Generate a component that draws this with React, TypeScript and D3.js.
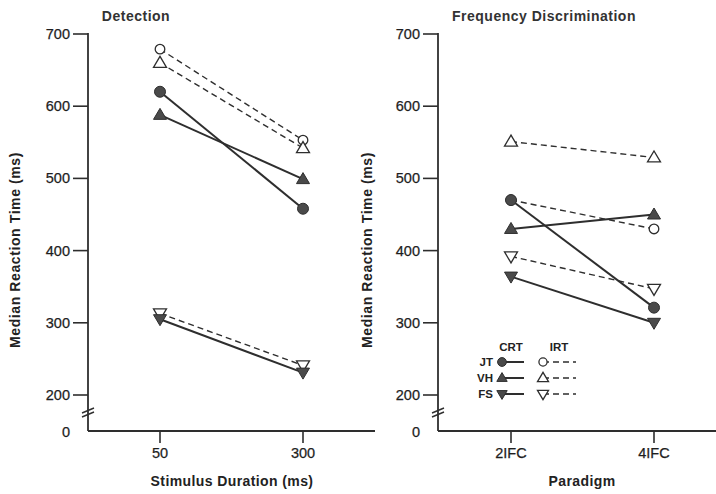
import React from "react";
import * as d3 from "d3";

const yTicks = [200, 300, 400, 500, 600, 700];
const detCats = ["50", "300"];
const freqCats = ["2IFC", "4IFC"];

const subjects = ["JT", "VH", "FS"];
const shapes = ["circle", "up", "down"];

// Detection values [at 50, at 300]
const detCRT_JT = [620, 458];
const detCRT_VH = [588, 499];
const detCRT_FS = [305, 231];
const detIRT_JT = [679, 553];
const detIRT_VH = [660, 542];
const detIRT_FS = [313, 241];

// Frequency discrimination [2IFC, 4IFC]
const frqCRT_JT = [470, 321];
const frqCRT_VH = [430, 450];
const frqCRT_FS = [364, 300];
const frqIRT_JT = [470, 430];
const frqIRT_VH = [551, 529];
const frqIRT_FS = [392, 347];

const INK = "#2e2e2e";
const FILL = "#4a4a4a";
const FONT = "'Liberation Sans', Arial, Helvetica, sans-serif";

function Marker({ shape, x, y, filled, k = 1 }: { shape: string; x: number; y: number; filled: boolean; k?: number }) {
  const fill = filled ? FILL : "#fff";
  const sw = filled ? 1 : 1.3;
  if (shape === "circle") {
    return <circle cx={x} cy={y} r={(filled ? 5.5 : 4.8) * k} fill={fill} stroke={INK} strokeWidth={sw} />;
  }
  const s = 6.5 * k;
  const h = 11 * k;
  const pts =
    shape === "up"
      ? [[x - s, y + h / 2 - 1], [x + s, y + h / 2 - 1], [x, y - h / 2 - 1]]
      : [[x - s, y - h / 2 + 1], [x + s, y - h / 2 + 1], [x, y + h / 2 + 1]];
  return <polygon points={pts.map((p) => p.join(",")).join(" ")} fill={fill} stroke={INK} strokeWidth={sw} strokeLinejoin="miter" />;
}

type Series = { vals: number[]; shape: string; filled: boolean };

function Panel({
  axisX, xEnd, cats, catX, series, title, titleX, xTitle, xTitleX, yTitleX, legend,
}: {
  axisX: number; xEnd: number; cats: string[]; catX: number[]; series: Series[];
  title: string; titleX: number; xTitle: string; xTitleX: number; yTitleX: number; legend?: boolean;
}) {
  const y = d3.scaleLinear().domain([200, 700]).range([395, 34]);
  const x = d3.scaleOrdinal<string, number>().domain(cats).range(catX);
  const base = 431;
  const line = d3.line<number>().x((_, i) => x(cats[i])).y((v) => y(v));
  return (
    <g>
      <text x={titleX} y={21} textAnchor="middle" fontFamily={FONT} fontWeight="bold" fontSize={14} letterSpacing={0.5} fill="#333">{title}</text>
      {/* y axis */}
      <line x1={axisX} y1={y(700) - 1} x2={axisX} y2={base} stroke={INK} strokeWidth={1.8} />
      <line x1={axisX} y1={base} x2={xEnd} y2={base} stroke={INK} strokeWidth={1.8} />
      {yTicks.map((t) => (
        <g key={t}>
          <line x1={axisX - 15} x2={axisX} y1={y(t)} y2={y(t)} stroke={INK} strokeWidth={1.6} />
          <text x={axisX - 18} y={y(t) + 5} textAnchor="end" fontFamily={FONT} fontSize={14.5} fill="#1e1e1e" stroke="#1e1e1e" strokeWidth={0.25}>{t}</text>
        </g>
      ))}
      <text x={axisX - 22} y={base + 6} textAnchor="middle" fontFamily={FONT} fontSize={14.5} fill="#1e1e1e" stroke="#1e1e1e" strokeWidth={0.25}>0</text>
      {/* break marks */}
      <line x1={axisX - 6} y1={413} x2={axisX + 6} y2={408} stroke={INK} strokeWidth={1.4} />
      <line x1={axisX - 6} y1={417} x2={axisX + 6} y2={412} stroke={INK} strokeWidth={1.4} />
      {/* x ticks */}
      {cats.map((c) => (
        <g key={c}>
          <line x1={x(c)} x2={x(c)} y1={base} y2={base + 12} stroke={INK} strokeWidth={1.6} />
          <text x={x(c)} y={base + 27} textAnchor="middle" fontFamily={FONT} fontSize={14.5} fill="#1e1e1e" stroke="#1e1e1e" strokeWidth={0.25}>{c}</text>
        </g>
      ))}
      <text x={xTitleX} y={486} textAnchor="middle" fontFamily={FONT} fontWeight="bold" fontSize={14} fill="#222" letterSpacing={0.4}>{xTitle}</text>
      <text transform={`translate(${yTitleX},250) rotate(-90)`} textAnchor="middle" fontFamily={FONT} fontWeight="bold" fontSize={14} fill="#222" letterSpacing={0.6}>Median Reaction Time (ms)</text>
      {/* series lines */}
      {series.map((s, i) => (
        <path key={"l" + i} d={line(s.vals) || ""} fill="none" stroke={INK} strokeWidth={s.filled ? 2 : 1.4} strokeDasharray={s.filled ? undefined : "6,4"} />
      ))}
      {series.map((s, i) => (
        <g key={"m" + i}>
          {s.vals.map((v, j) => (
            <Marker key={j} shape={s.shape} x={x(cats[j])} y={y(v)} filled={s.filled} />
          ))}
        </g>
      ))}
      {legend && (
        <g fontFamily={FONT} fontWeight="bold" fill="#222" fontSize={11.5}>
          <text x={511} y={351} textAnchor="middle">CRT</text>
          <text x={559} y={351} textAnchor="middle">IRT</text>
          {subjects.map((sub, i) => {
            const ly = 362 + i * 16;
            return (
              <g key={sub}>
                <text x={493} y={ly + 4} textAnchor="end">{sub}</text>
                <line x1={502} x2={524} y1={ly} y2={ly} stroke={INK} strokeWidth={2} />
                <Marker shape={shapes[i]} x={502} y={ly} filled={true} k={0.8} />
                <line x1={543} x2={576} y1={ly} y2={ly} stroke={INK} strokeWidth={1.4} strokeDasharray="6,4" />
                <Marker shape={shapes[i]} x={543} y={ly} filled={false} k={0.85} />
              </g>
            );
          })}
        </g>
      )}
    </g>
  );
}

export default function App() {
  const detSeries: Series[] = [
    { vals: detIRT_JT, shape: "circle", filled: false },
    { vals: detIRT_VH, shape: "up", filled: false },
    { vals: detIRT_FS, shape: "down", filled: false },
    { vals: detCRT_JT, shape: "circle", filled: true },
    { vals: detCRT_VH, shape: "up", filled: true },
    { vals: detCRT_FS, shape: "down", filled: true },
  ];
  const frqSeries: Series[] = [
    { vals: frqIRT_JT, shape: "circle", filled: false },
    { vals: frqIRT_VH, shape: "up", filled: false },
    { vals: frqIRT_FS, shape: "down", filled: false },
    { vals: frqCRT_JT, shape: "circle", filled: true },
    { vals: frqCRT_VH, shape: "up", filled: true },
    { vals: frqCRT_FS, shape: "down", filled: true },
  ];
  return (
    <svg width={716} height={494} style={{ position: "absolute", left: 0, top: 0, background: "#fff" }}>
      <rect width={716} height={494} fill="#fff" />
      <Panel axisX={88} xEnd={375} cats={detCats} catX={[160, 303]} series={detSeries} title="Detection" titleX={136}
        xTitle="Stimulus Duration (ms)" xTitleX={232} yTitleX={20} />
      <Panel axisX={438} xEnd={716} cats={freqCats} catX={[511, 654]} series={frqSeries} title="Frequency Discrimination" titleX={544}
        xTitle="Paradigm" xTitleX={582} yTitleX={372} legend />
    </svg>
  );
}
